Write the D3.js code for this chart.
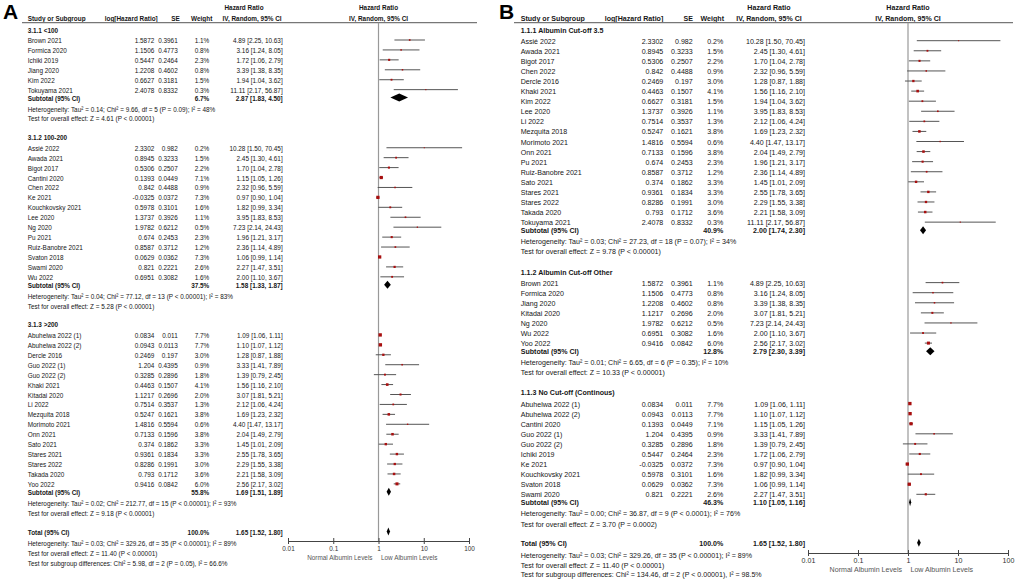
<!DOCTYPE html>
<html>
<head>
<meta charset="utf-8">
<script src="https://cdn.jsdelivr.net/npm/d3@7"></script>
<style>
body { margin: 0; background: #fff; }
text { font-family: "Liberation Sans", Arial, sans-serif; font-size: 8px; fill: #161616; }
</style>
</head>
<body>
<div class="main"></div>
<script>
// study level values
var studies = ["Abuhelwa 2022 (1)", "Abuhelwa 2022 (2)", "Assié 2022", "Awada 2021", "Bigot 2017", "Brown 2021",
    "Cantini 2020", "Chen 2022", "Dercle 2016", "Formica 2020", "Guo 2022 (1)", "Guo 2022 (2)", "Ichiki 2019",
    "Jiang 2020", "Ke 2021", "Khaki 2021", "Kim 2022", "Kitadai 2020", "Kouchkovsky 2021", "Lee 2020", "Li 2022",
    "Mezquita 2018", "Morimoto 2021", "Ng 2020", "Onn 2021", "Pu 2021", "Ruiz-Banobre 2021", "Sato 2021",
    "Stares 2021", "Stares 2022", "Svaton 2018", "Swami 2020", "Takada 2020", "Tokuyama 2021", "Wu 2022", "Yoo 2022"];
var logHR = [0.0834, 0.0943, 2.3302, 0.8945, 0.5306, 1.5872, 0.1393, 0.842, 0.2469, 1.1506, 1.204, 0.3285, 0.5447,
    1.2208, -0.0325, 0.4463, 0.6627, 1.1217, 0.5978, 1.3737, 0.7514, 0.5247, 1.4816, 1.9782, 0.7133, 0.674, 0.8587,
    0.374, 0.9361, 0.8286, 0.0629, 0.821, 0.793, 2.4078, 0.6951, 0.9416];
var se = [0.011, 0.0113, 0.982, 0.3233, 0.2507, 0.3961, 0.0449, 0.4488, 0.197, 0.4773, 0.4395, 0.2896, 0.2464,
    0.4602, 0.0372, 0.1507, 0.3181, 0.2696, 0.3101, 0.3926, 0.3537, 0.1621, 0.5594, 0.6212, 0.1596, 0.2453, 0.3712,
    0.1862, 0.1834, 0.1991, 0.0362, 0.2221, 0.1712, 0.8332, 0.3082, 0.0842];
var weight = [7.7, 7.7, 0.2, 1.5, 2.2, 1.1, 7.1, 0.9, 3.0, 0.8, 0.9, 1.8, 2.3, 0.8, 7.3, 4.1, 1.5, 2.0, 1.6, 1.1, 1.3,
    3.8, 0.6, 0.5, 3.8, 2.3, 1.2, 3.3, 3.3, 3.0, 7.3, 2.6, 3.6, 0.3, 1.6, 6.0];
var hr = [1.09, 1.10, 10.28, 2.45, 1.70, 4.89, 1.15, 2.32, 1.28, 3.16, 3.33, 1.39, 1.72, 3.39, 0.97, 1.56, 1.94, 3.07,
    1.82, 3.95, 2.12, 1.69, 4.40, 7.23, 2.04, 1.96, 2.36, 1.45, 2.55, 2.29, 1.06, 2.27, 2.21, 11.11, 2.00, 2.56];
var lower = [1.06, 1.07, 1.50, 1.30, 1.04, 2.25, 1.05, 0.96, 0.87, 1.24, 1.41, 0.79, 1.06, 1.38, 0.90, 1.16, 1.04,
    1.81, 0.99, 1.83, 1.06, 1.23, 1.47, 2.14, 1.49, 1.21, 1.14, 1.01, 1.78, 1.55, 0.99, 1.47, 1.58, 2.17, 1.10, 2.17];
var upper = [1.11, 1.12, 70.45, 4.61, 2.78, 10.63, 1.26, 5.59, 1.88, 8.05, 7.89, 2.45, 2.79, 8.35, 1.04, 2.10, 3.62,
    5.21, 3.34, 8.53, 4.24, 2.32, 13.17, 24.43, 2.79, 3.17, 4.89, 2.09, 3.65, 3.38, 1.14, 3.51, 3.09, 56.87, 3.67, 3.02];

// panel A subgroups
var groupsA = ["3.1.1 <100", "3.1.2 100-200", "3.1.3 >200"];
var membersA = [
    ["Brown 2021", "Formica 2020", "Ichiki 2019", "Jiang 2020", "Kim 2022", "Tokuyama 2021"],
    ["Assié 2022", "Awada 2021", "Bigot 2017", "Cantini 2020", "Chen 2022", "Ke 2021", "Kouchkovsky 2021", "Lee 2020",
        "Ng 2020", "Pu 2021", "Ruiz-Banobre 2021", "Svaton 2018", "Swami 2020", "Wu 2022"],
    ["Abuhelwa 2022 (1)", "Abuhelwa 2022 (2)", "Dercle 2016", "Guo 2022 (1)", "Guo 2022 (2)", "Khaki 2021",
        "Kitadai 2020", "Li 2022", "Mezquita 2018", "Morimoto 2021", "Onn 2021", "Sato 2021", "Stares 2021",
        "Stares 2022", "Takada 2020", "Yoo 2022"]
];
var subWeightA = [6.7, 37.5, 55.8];
var subHrA = [2.87, 1.58, 1.69];
var subLowerA = [1.83, 1.33, 1.51];
var subUpperA = [4.50, 1.87, 1.89];
var hetA = ["Heterogeneity: Tau² = 0.14; Chi² = 9.66, df = 5 (P = 0.09); I² = 48%",
    "Heterogeneity: Tau² = 0.04; Chi² = 77.12, df = 13 (P < 0.00001); I² = 83%",
    "Heterogeneity: Tau² = 0.02; Chi² = 212.77, df = 15 (P < 0.00001); I² = 93%"];
var testA = ["Test for overall effect: Z = 4.61 (P < 0.00001)",
    "Test for overall effect: Z = 5.28 (P < 0.00001)",
    "Test for overall effect: Z = 9.18 (P < 0.00001)"];
var subgroupTestA = "Test for subgroup differences: Chi² = 5.98, df = 2 (P = 0.05), I² = 66.6%";

// panel B subgroups
var groupsB = ["1.1.1 Albumin Cut-off 3.5", "1.1.2 Albumin Cut-off Other", "1.1.3 No Cut-off (Continous)"];
var membersB = [
    ["Assié 2022", "Awada 2021", "Bigot 2017", "Chen 2022", "Dercle 2016", "Khaki 2021", "Kim 2022", "Lee 2020",
        "Li 2022", "Mezquita 2018", "Morimoto 2021", "Onn 2021", "Pu 2021", "Ruiz-Banobre 2021", "Sato 2021",
        "Stares 2021", "Stares 2022", "Takada 2020", "Tokuyama 2021"],
    ["Brown 2021", "Formica 2020", "Jiang 2020", "Kitadai 2020", "Ng 2020", "Wu 2022", "Yoo 2022"],
    ["Abuhelwa 2022 (1)", "Abuhelwa 2022 (2)", "Cantini 2020", "Guo 2022 (1)", "Guo 2022 (2)", "Ichiki 2019",
        "Ke 2021", "Kouchkovsky 2021", "Svaton 2018", "Swami 2020"]
];
var subWeightB = [40.9, 12.8, 46.3];
var subHrB = [2.00, 2.79, 1.10];
var subLowerB = [1.74, 2.30, 1.05];
var subUpperB = [2.30, 3.39, 1.16];
var hetB = ["Heterogeneity: Tau² = 0.03; Chi² = 27.23, df = 18 (P = 0.07); I² = 34%",
    "Heterogeneity: Tau² = 0.01; Chi² = 6.65, df = 6 (P = 0.35); I² = 10%",
    "Heterogeneity: Tau² = 0.00; Chi² = 36.87, df = 9 (P < 0.0001); I² = 76%"];
var testB = ["Test for overall effect: Z = 9.78 (P < 0.00001)",
    "Test for overall effect: Z = 10.33 (P < 0.00001)",
    "Test for overall effect: Z = 3.70 (P = 0.0002)"];
var subgroupTestB = "Test for subgroup differences: Chi² = 134.46, df = 2 (P < 0.00001), I² = 98.5%";

// overall
var totalWeight = 100.0;
var totalHr = 1.65;
var totalLower = 1.52;
var totalUpper = 1.80;
var totalHet = "Heterogeneity: Tau² = 0.03; Chi² = 329.26, df = 35 (P < 0.00001); I² = 89%";
var totalTest = "Test for overall effect: Z = 11.40 (P < 0.00001)";

var axisTicks = [0.01, 0.1, 1, 10, 100];
var axisTickLabels = ["0.01", "0.1", "1", "10", "100"];
var favourLeft = "Normal Albumin Levels";
var favourRight = "Low Albumin Levels";

var width = 1017;
var height = 585;
var svg = d3.select(".main")
    .append("svg")
        .attr("width", width)
        .attr("height", height);

var panels = [
    {letter: "A", letterX: 3, groups: groupsA, members: membersA, subWeight: subWeightA, subHr: subHrA,
        subLower: subLowerA, subUpper: subUpperA, het: hetA, test: testA, subgroupTest: subgroupTestA,
        sx: 0.8, nameX: 27.7, logX: 154.3, logHX: 157.7, seX: 177.7, seHX: 179.7, wX: 209.3, wHX: 212.3,
        ciX: 282.7, hrHX: 244, ivHX: 252, lineX0: 22, lineX1: 477, range: [288, 469], axisY: 541,
        y0: 40, step: 9.93, firstGap: 1.05, titleGap: 1.9},
    {letter: "B", letterX: 499, groups: groupsB, members: membersB, subWeight: subWeightB, subHr: subHrB,
        subLower: subLowerB, subUpper: subUpperB, het: hetB, test: testB, subgroupTest: subgroupTestB,
        sx: 0.886, nameX: 520.7, logX: 663.3, logHX: 663.3, seX: 692.7, seHX: 693, wX: 723.3, wHX: 724,
        ciX: 805, hrHX: 769, ivHX: 769, lineX0: 514, lineX1: 1013, range: [808, 1008], axisY: 553,
        y0: 40.7, step: 10.08, firstGap: 1.1, titleGap: 2.0}
];

function txt(parent, x, y, s, anchor, bold, sx) {
    return parent.append("text")
        .attr("transform", "translate(" + x + "," + y + ") scale(" + sx + ",1)")
        .attr("text-anchor", anchor)
        .style("font-weight", bold ? "bold" : null)
        .text(s);
}

function buildRows(p) {
    var rows = [];
    var idx = -p.firstGap;
    p.groups.forEach(function(name, gi) {
        rows.push({type: "title", idx: idx, text: name});
        idx += p.firstGap;
        p.members[gi].forEach(function(s, si) {
            if (si > 0) idx += 1;
            rows.push({type: "study", idx: idx, k: studies.indexOf(s)});
        });
        idx += 0.8;
        rows.push({type: "subtotal", idx: idx, gi: gi});
        idx += 1.1;
        rows.push({type: "het", idx: idx, text: p.het[gi]});
        idx += 1.0;
        rows.push({type: "test", idx: idx, text: p.test[gi]});
        idx += (gi < p.groups.length - 1) ? p.titleGap : 1.9;
    });
    rows.push({type: "total", idx: idx});
    idx += 1.2;
    rows.push({type: "het", idx: idx, text: totalHet});
    idx += 1.0;
    rows.push({type: "test", idx: idx, text: totalTest});
    idx += 0.95;
    rows.push({type: "test", idx: idx, text: p.subgroupTest});
    return rows;
}

var sizeScale = d3.scaleSqrt().domain([0, 8]).range([0.6, 3.4]);

panels.forEach(function(p) {
    var g = svg.append("g");
    var sx = p.sx;
    var xScale = d3.scaleLog().domain([0.01, 100]).range(p.range);
    var yPos = function(idx) { return p.y0 + idx * p.step; };
    var base = 3;

    g.append("text")
        .attr("x", p.letterX)
        .attr("y", 18.5)
        .style("font-size", "21px")
        .style("font-weight", "bold")
        .style("fill", "#000")
        .text(p.letter);

    // headers
    txt(g, p.hrHX, 9.7, "Hazard Ratio", "middle", true, sx);
    txt(g, xScale(1), 9.7, "Hazard Ratio", "middle", true, sx);
    txt(g, p.nameX, 20.5, "Study or Subgroup", "start", true, sx);
    txt(g, p.logHX, 20.5, "log[Hazard Ratio]", "end", true, sx);
    txt(g, p.seHX, 20.5, "SE", "end", true, sx);
    txt(g, p.wHX, 20.5, "Weight", "end", true, sx);
    txt(g, p.ivHX, 20.5, "IV, Random, 95% CI", "middle", true, sx);
    txt(g, xScale(1), 20.5, "IV, Random, 95% CI", "middle", true, sx);

    g.append("line")
        .attr("x1", p.lineX0).attr("x2", p.lineX1)
        .attr("y1", 22.7).attr("y2", 22.7)
        .attr("stroke", "#777")
        .attr("stroke-width", 1.3);

    // line of no effect
    g.append("line")
        .attr("x1", xScale(1)).attr("x2", xScale(1))
        .attr("y1", 22.7).attr("y2", p.axisY)
        .attr("stroke", "#999")
        .attr("stroke-width", 1.2);

    var rows = buildRows(p);
    rows.forEach(function(r) {
        var y = yPos(r.idx);
        if (r.type === "title") {
            txt(g, p.nameX, y + base, r.text, "start", true, sx);
        } else if (r.type === "study") {
            var k = r.k;
            txt(g, p.nameX, y + base, studies[k], "start", false, sx);
            txt(g, p.logX, y + base, String(logHR[k]), "end", false, sx);
            txt(g, p.seX, y + base, String(se[k]), "end", false, sx);
            txt(g, p.wX, y + base, weight[k].toFixed(1) + "%", "end", false, sx);
            txt(g, p.ciX, y + base, hr[k].toFixed(2) + " [" + lower[k].toFixed(2) + ", " + upper[k].toFixed(2) + "]", "end", false, sx);
            g.append("line")
                .attr("x1", xScale(lower[k])).attr("x2", xScale(upper[k]))
                .attr("y1", y).attr("y2", y)
                .attr("stroke", "#555")
                .attr("stroke-width", 1);
            var s = sizeScale(weight[k]);
            g.append("rect")
                .attr("x", xScale(hr[k]) - s / 2)
                .attr("y", y - s / 2)
                .attr("width", s)
                .attr("height", s)
                .attr("fill", "#a80f0f");
        } else if (r.type === "subtotal" || r.type === "total") {
            var isTotal = r.type === "total";
            var w = isTotal ? totalWeight : p.subWeight[r.gi];
            var est = isTotal ? totalHr : p.subHr[r.gi];
            var lo = isTotal ? totalLower : p.subLower[r.gi];
            var hi = isTotal ? totalUpper : p.subUpper[r.gi];
            txt(g, p.nameX, y + base, isTotal ? "Total (95% CI)" : "Subtotal (95% CI)", "start", true, sx);
            txt(g, p.wX, y + base, w.toFixed(1) + "%", "end", true, sx);
            txt(g, p.ciX, y + base, est.toFixed(2) + " [" + lo.toFixed(2) + ", " + hi.toFixed(2) + "]", "end", true, sx);
            var dh = 4;
            g.append("path")
                .attr("d", "M" + xScale(lo) + "," + y + "L" + xScale(est) + "," + (y - dh) +
                    "L" + xScale(hi) + "," + y + "L" + xScale(est) + "," + (y + dh) + "Z")
                .attr("fill", "#000");
        } else {
            txt(g, p.nameX, y + base, r.text, "start", false, sx);
        }
    });

    // axis
    var xAxis = d3.axisBottom(xScale)
        .tickValues(axisTicks)
        .tickFormat(function(d, i) { return axisTickLabels[i]; })
        .tickSizeInner(3)
        .tickSizeOuter(0)
        .tickPadding(1.3);
    var axisGroup = g.append("g")
        .attr("transform", "translate(0," + p.axisY + ")")
        .call(xAxis);
    axisGroup.attr("font-size", null).attr("font-family", null);
    axisGroup.select(".domain").attr("stroke", "#444").attr("stroke-width", 1);
    axisGroup.selectAll(".tick line").attr("y1", -3).attr("stroke", "#444");
    axisGroup.selectAll(".tick text")
        .attr("transform", "scale(" + sx + ",1)")
        .style("fill", "#333");

    txt(g, xScale(1) - 6, p.axisY + 19, favourLeft, "end", false, sx).style("fill", "#555");
    txt(g, xScale(1) + 2.5, p.axisY + 19, favourRight, "start", false, sx).style("fill", "#555");
});
</script>
</body>
</html>
